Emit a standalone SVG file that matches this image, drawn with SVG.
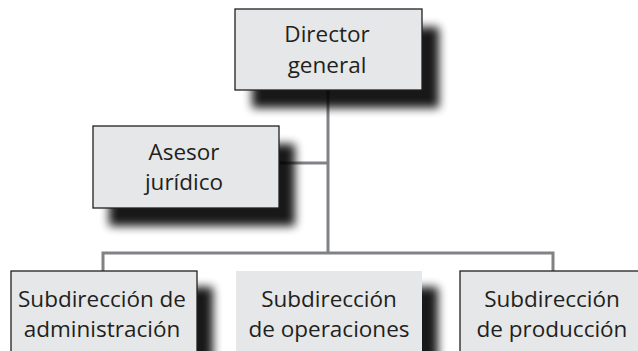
<svg xmlns="http://www.w3.org/2000/svg" width="638" height="351" viewBox="0 0 638 351">
<style>
.box{fill:#e6e7e8;stroke:#231f20;stroke-width:1.3}
.nb{fill:#e6e7e8}
.sh{fill:#000;filter:url(#blur);opacity:0.9}
.t{font-family:"Open Sans","Liberation Sans",sans-serif;font-size:22.5px;fill:#231f20;text-anchor:middle}
.ln{stroke:#808285;stroke-width:3;fill:none}
</style>
<defs>
<filter id="blur" x="-20%" y="-30%" width="140%" height="160%"><feGaussianBlur stdDeviation="5"/></filter>
</defs>
<rect width="638" height="351" fill="#fff"/>
<g id="connectors">
<path class="ln" d="M328 90V253M279 163H328M103 271V253H553V271"/>
</g>
<g id="director">
<rect class="sh" x="252" y="27" width="187" height="81"/>
<rect class="box" x="235" y="9" width="187" height="81"/>
<text class="t" x="327" y="42">Director</text>
<text class="t" x="327" y="73">general</text>
</g>
<g id="asesor">
<rect class="sh" x="109" y="144" width="186" height="82"/>
<rect class="box" x="93" y="126" width="186" height="82"/>
<text class="t" x="184" y="160">Asesor</text>
<text class="t" x="184" y="190">jurídico</text>
</g>
<g id="sub-admin">
<rect class="sh" x="26" y="287" width="187" height="90"/>
<rect class="box" x="11" y="271" width="186" height="90"/>
<text class="t" x="102" y="307">Subdirección de</text>
<text class="t" x="102" y="337">administración</text>
</g>
<g id="sub-oper">
<rect class="sh" x="252" y="287" width="186" height="90"/>
<rect class="nb" x="236" y="271" width="186" height="90"/>
<text class="t" x="329" y="307">Subdirección</text>
<text class="t" x="329" y="337">de operaciones</text>
</g>
<g id="sub-prod">
<rect class="box" x="460" y="271" width="186" height="90"/>
<text class="t" x="552" y="307">Subdirección</text>
<text class="t" x="552" y="337">de producción</text>
</g>
</svg>
